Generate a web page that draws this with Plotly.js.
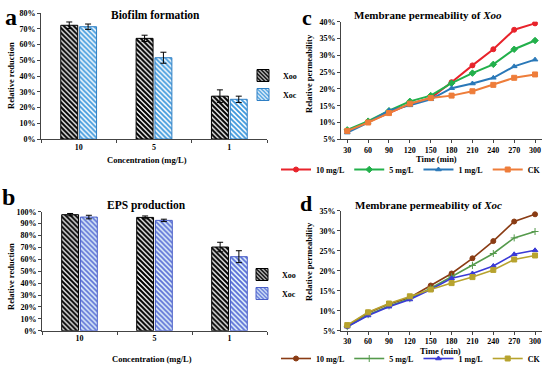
<!DOCTYPE html>
<html><head><meta charset="utf-8">
<script src="https://cdn.plot.ly/plotly-3.0.1.min.js"></script>
<style>html,body{margin:0;padding:0;background:#fff}#chart{width:550px;height:369px}</style>
</head><body><div id="chart"></div>
<script>
// ---- data ----
const concentrations = ["10", "5", "1"];
const biofilmXoo = [0.722, 0.639, 0.272];
const biofilmXooErr = [0.021, 0.020, 0.040];
const biofilmXoc = [0.713, 0.516, 0.252];
const biofilmXocErr = [0.017, 0.035, 0.020];
const epsXoo = [0.975, 0.952, 0.703];
const epsXooErr = [0.010, 0.012, 0.040];
const epsXoc = [0.955, 0.927, 0.622];
const epsXocErr = [0.015, 0.010, 0.050];

const times = [30, 60, 90, 120, 150, 180, 210, 240, 270, 300];
const xoo10 = [0.075, 0.102, 0.130, 0.155, 0.173, 0.220, 0.270, 0.318, 0.376, 0.395];
const xoo5  = [0.078, 0.104, 0.135, 0.163, 0.180, 0.217, 0.247, 0.273, 0.318, 0.344];
const xoo1  = [0.070, 0.100, 0.136, 0.151, 0.169, 0.202, 0.216, 0.233, 0.267, 0.287];
const xooCK = [0.075, 0.100, 0.128, 0.156, 0.173, 0.180, 0.193, 0.212, 0.233, 0.243];
const xoc10 = [0.062, 0.095, 0.117, 0.133, 0.163, 0.193, 0.231, 0.274, 0.323, 0.341];
const xoc5  = [0.060, 0.090, 0.112, 0.130, 0.156, 0.185, 0.213, 0.243, 0.282, 0.298];
const xoc1  = [0.060, 0.088, 0.110, 0.128, 0.153, 0.181, 0.193, 0.212, 0.241, 0.251];
const xocCK = [0.064, 0.096, 0.118, 0.136, 0.153, 0.169, 0.184, 0.202, 0.228, 0.238];

const seriesNames = ["10 mg/L", "5 mg/L", "1 mg/L", "CK"];
const barNames = ["Xoo", "Xoc"];

// ---- styling ----
const SERIF = "Liberation Serif, Times New Roman, serif";
const W = 550, H = 369;
const px = v => v / W;
const py = v => 1 - v / H;

function errObj(arr) {
  return {type: "data", array: arr, visible: true, color: "#000", thickness: 1, width: 3};
}
const xooMarker = {color: "#fff", line: {color: "#000", width: 1},
  pattern: {shape: "\\", fgcolor: "#000", bgcolor: "#fff", size: 3.5, solidity: 0.62}};
const xocMarkerA = {color: "#fff", line: {color: "#2f7fc4", width: 1},
  pattern: {shape: "\\", fgcolor: "#3d98dc", bgcolor: "#ffffff", size: 3.5, solidity: 0.55}};
const xocMarkerB = {color: "#fff", line: {color: "#4a5fc8", width: 1},
  pattern: {shape: "\\", fgcolor: "#5a6fd6", bgcolor: "#e6f6fc", size: 3.5, solidity: 0.55}};

const traces = [
  {type: "bar", x: concentrations, y: biofilmXoo, name: barNames[0], error_y: errObj(biofilmXooErr),
   marker: xooMarker, xaxis: "x", yaxis: "y", legend: "legend"},
  {type: "bar", x: concentrations, y: biofilmXoc, name: barNames[1], error_y: errObj(biofilmXocErr),
   marker: xocMarkerA, xaxis: "x", yaxis: "y", legend: "legend"},
  {type: "bar", x: concentrations, y: epsXoo, name: barNames[0], error_y: errObj(epsXooErr),
   marker: xooMarker, xaxis: "x2", yaxis: "y2", legend: "legend2"},
  {type: "bar", x: concentrations, y: epsXoc, name: barNames[1], error_y: errObj(epsXocErr),
   marker: xocMarkerB, xaxis: "x2", yaxis: "y2", legend: "legend2"}
];

const cColors = ["#e8232b", "#22b04b", "#2a78b8", "#ee7d3a"];
const dColors = ["#8a3c14", "#559a4c", "#3a3ad6", "#b7a32e"];
const cSymbols = ["circle", "diamond", "triangle-up", "square"];
const dSymbols = ["circle", "cross-thin", "triangle-up", "square"];
const cData = [xoo10, xoo5, xoo1, xooCK];
const dData = [xoc10, xoc5, xoc1, xocCK];

cData.forEach((ys, i) => traces.push({
  type: "scatter", mode: "lines+markers", x: times, y: ys, name: seriesNames[i],
  line: {color: cColors[i], width: 2}, marker: {color: cColors[i], symbol: cSymbols[i], size: 5,
    line: {color: cColors[i], width: 1}},
  xaxis: "x3", yaxis: "y3", legend: "legend3"}));
dData.forEach((ys, i) => traces.push({
  type: "scatter", mode: "lines+markers", x: times, y: ys, name: seriesNames[i],
  line: {color: dColors[i], width: 1.6}, marker: {color: dColors[i], symbol: dSymbols[i], size: 5,
    line: {color: dColors[i], width: 1}},
  xaxis: "x4", yaxis: "y4", legend: "legend4"}));

const tickFont = {family: SERIF, size: 8, color: "#000", weight: "bold"};
function yAx(dom, rng, dt, anchor) {
  return {domain: dom, range: rng, dtick: dt, tickformat: ".0%", showgrid: false, zeroline: false,
    showline: true, linecolor: "#444", linewidth: 1, ticks: "outside", ticklen: 3, tickcolor: "#444",
    tickfont: tickFont, anchor: anchor, fixedrange: true, automargin: false};
}
function xBar(dom, anchor) {
  return {domain: dom, type: "category", showgrid: false, zeroline: false, showline: true,
    linecolor: "#444", linewidth: 1, ticks: "outside", tickson: "boundaries", ticklen: 3, tickcolor: "#444",
    tickfont: tickFont, anchor: anchor, fixedrange: true, automargin: false};
}
function xLine(dom, anchor) {
  return {domain: dom, range: [21, 310], tickvals: times, showgrid: false, zeroline: false, showline: true,
    linecolor: "#444", linewidth: 1, ticks: "outside", ticklen: 3, tickcolor: "#444",
    tickfont: tickFont, anchor: anchor, fixedrange: true, automargin: false};
}

function ann(text, x, y, size, extra) {
  return Object.assign({text: text, x: px(x), y: py(y), xref: "paper", yref: "paper",
    showarrow: false, xanchor: "center", yanchor: "middle",
    font: {family: SERIF, size: size, color: "#000", weight: "bold"}}, extra || {});
}

const legendBase = {font: {family: SERIF, size: 8, color: "#000", weight: "bold"},
  bgcolor: "rgba(0,0,0,0)", borderwidth: 0, tracegroupgap: 0, itemclick: false, itemdoubleclick: false};

const layout = {
  width: W, height: H, margin: {l: 0, r: 0, t: 0, b: 0, autoexpand: false},
  paper_bgcolor: "#fff", plot_bgcolor: "#fff",
  barmode: "group", bargap: 0.5, bargroupgap: 0.1,
  xaxis: xBar([px(41), px(267)], "y"),
  yaxis: yAx([py(139), py(13)], [0, 0.8], 0.1, "x"),
  xaxis2: xBar([px(42), px(267)], "y2"),
  yaxis2: yAx([py(330.7), py(211.7)], [0, 1], 0.1, "x2"),
  xaxis3: xLine([px(341), px(542)], "y3"),
  yaxis3: yAx([py(139.3), py(21.7)], [0.05, 0.40], 0.05, "x3"),
  xaxis4: xLine([px(341), px(542)], "y4"),
  yaxis4: yAx([py(330.7), py(210.7)], [0.05, 0.35], 0.05, "x4"),
  legend: Object.assign({}, legendBase, {x: px(243), y: py(61), xanchor: "left", yanchor: "top"}),
  legend2: Object.assign({}, legendBase, {x: px(242), y: py(260), xanchor: "left", yanchor: "top"}),
  legend3: Object.assign({}, legendBase, {orientation: "h", x: px(276), y: py(155), xanchor: "left", yanchor: "top"}),
  legend4: Object.assign({}, legendBase, {orientation: "h", x: px(276), y: py(344), xanchor: "left", yanchor: "top"}),
  annotations: [
    ann("a", 10.5, 17, 24),
    ann("b", 8, 197, 24),
    ann("c", 307, 17, 22),
    ann("d", 306, 203, 22),
    ann("Biofilm formation", 155, 15, 11.5),
    ann("EPS production", 146, 205, 11.5),
    ann("Membrane permeability of <i>Xoo</i>", 428, 15, 11),
    ann("Membrane permeability of <i>Xoc</i>", 428, 205, 11),
    ann("Relative reduction", 11, 76, 8.5, {textangle: -90}),
    ann("Relative reduction", 11, 277, 8.5, {textangle: -90}),
    ann("Relative permeability", 309, 74, 8.5, {textangle: -90}),
    ann("Relative permeability", 309, 262, 8.5, {textangle: -90}),
    ann("Concentration (mg/L)", 147, 160, 8.5),
    ann("Concentration (mg/L)", 152, 359, 8.5),
    ann("Time (min)", 436, 159, 8.5),
    ann("Time (min)", 441, 351, 8.5)
  ]
};

Plotly.newPlot("chart", traces, layout, {displayModeBar: false, staticPlot: true});
</script>
</body></html>
